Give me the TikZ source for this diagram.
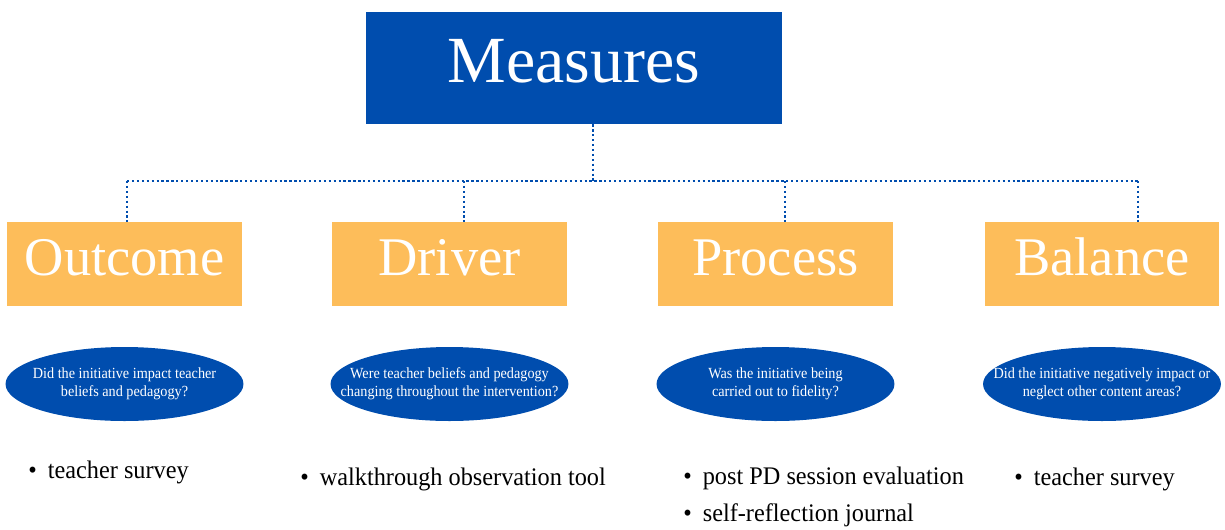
\documentclass[tikz,border=0pt]{standalone}
\usepackage{fontspec}
\setmainfont{Liberation Serif}
\newfontfamily\narrowserif[FakeStretch=0.92]{Liberation Serif}
\newfontfamily\toolserif[FakeStretch=0.96]{Liberation Serif}
\usetikzlibrary{shapes.geometric}

\definecolor{measblue}{RGB}{0,77,174}
\definecolor{measorange}{RGB}{253,189,90}

\tikzset{
  headbox/.style={fill=measblue, text=white, minimum width=8.32cm, minimum height=2.24cm,
    font=\fontsize{37.5}{40}\selectfont, text height=24.75pt, text depth=8.6pt},
  typebox/.style={fill=measorange, text=white, minimum width=4.7cm, minimum height=1.68cm,
    font=\fontsize{31}{34}\selectfont, text height=20.5pt, text depth=7.1pt},
  question/.style={ellipse, fill=measblue, minimum width=4.76cm, minimum height=1.48cm, inner sep=0pt},
  asktext/.style={text=white, align=center, inner sep=0pt, font=\narrowserif\fontsize{8.8}{10.2}\selectfont},
  tool/.style={anchor=base west, inner sep=0pt, font=\toolserif\fontsize{14.4}{18}\selectfont},
  link/.style={measblue, line width=1.3pt, dash pattern=on 1.3pt off 1.5pt},
}

\begin{document}
\begin{tikzpicture}[x=0.02cm, y=-0.02cm]
  \useasboundingbox (0,0) rectangle (1225,529);

  \node[headbox] (measures) at (574,68) {Measures};
  \coordinate (hub) at (593,181);

  % one column per kind of measure
  \foreach \name/\cx/\dx/\title/\ask in {
      outcome/124.5/127/Outcome/{Did the initiative impact teacher\\beliefs and pedagogy?},
      driver/449.5/464/Driver/{Were teacher beliefs and pedagogy\\changing throughout the intervention?},
      process/775.5/785/Process/{Was the initiative being\\carried out to fidelity?},
      balance/1102/1138/Balance/{Did the initiative negatively impact or\\neglect other content areas?}}{
    \node[typebox] (\name) at (\cx,264) {\title};
    \node[question, label={[asktext]center:\ask}] (\name-q) at (\cx,384) {};
    \coordinate (\name-drop) at (\dx,181);
    \draw[link] (\name-drop) -- (\name-drop |- \name.north);
  }

  \draw[link] (measures.south -| hub) -- (hub);
  \draw[link] (outcome-drop) -- (balance-drop);

  % tools used for each measure
  \node[tool] (outcome-tool) at (28,478) {\textbullet\hspace{0.22cm}teacher survey};
  \node[tool] (driver-tool) at (300,485) {\textbullet\hspace{0.22cm}walkthrough observation tool};
  \node[tool] (process-tool1) at (683,484) {\textbullet\hspace{0.22cm}post PD session evaluation};
  \node[tool] (process-tool2) at (683,521) {\textbullet\hspace{0.22cm}self-reflection journal};
  \node[tool] (balance-tool) at (1014,485) {\textbullet\hspace{0.22cm}teacher survey};
\end{tikzpicture}
\end{document}
